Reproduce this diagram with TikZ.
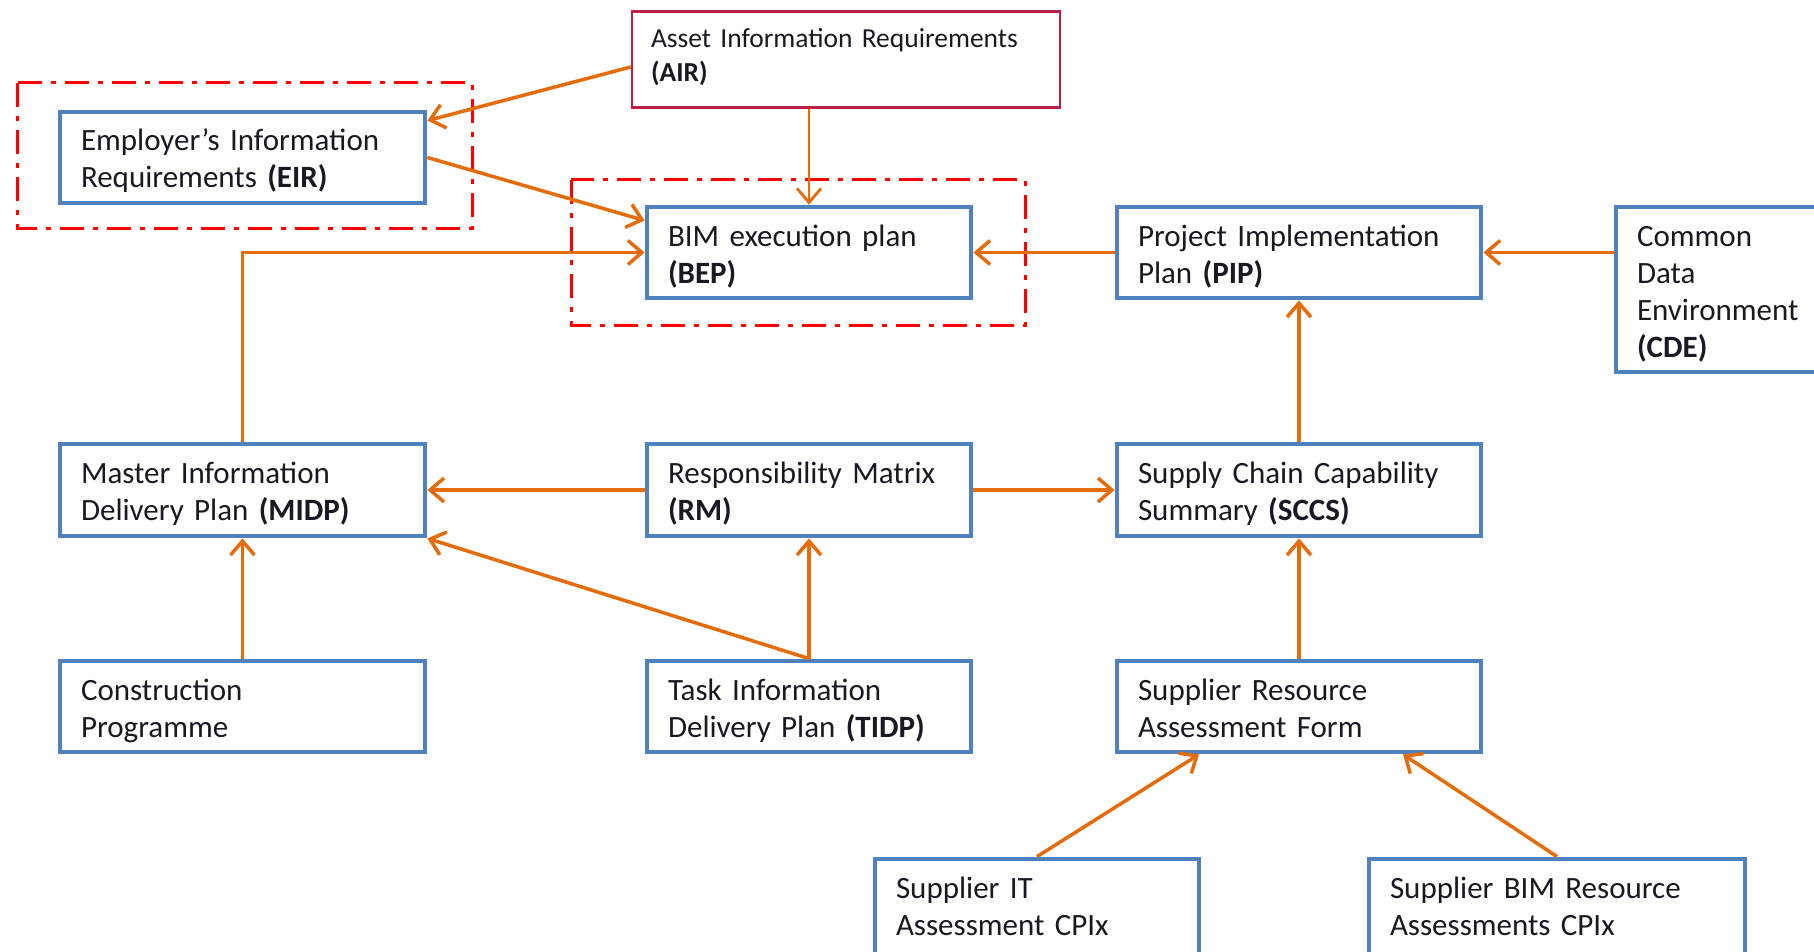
\documentclass[tikz,border=0pt]{standalone}
\usepackage{fontspec}
\setmainfont{Carlito}
\usetikzlibrary{arrows.meta}
\definecolor{boxblue}{RGB}{79,129,189}
\definecolor{arrorange}{RGB}{228,108,10}
\definecolor{airred}{RGB}{190,30,70}
\definecolor{grpred}{RGB}{255,0,0}
\definecolor{txt}{RGB}{25,25,35}
\tikzset{
  bx/.style={draw=boxblue, line width=4.8pt, fill=white, inner xsep=21pt, inner ysep=0pt,
    align=left, text height=39pt, text=txt, font=\fontsize{31}{37}\selectfont},
  airbx/.style={draw=airred, line width=2.5pt, fill=white, inner xsep=19pt, inner ysep=0pt,
    align=left, text height=36pt, text=txt, font=\fontsize{27.5}{34}\selectfont},
  conn/.style={draw=arrorange, line width=3.5pt, -{Straight Barb[length=14pt,width=24pt,line width=3.5pt]}},
  thinconn/.style={draw=arrorange, line width=2.8pt, -{Straight Barb[length=14pt,width=24pt,line width=2.8pt]}},
  grp/.style={draw=grpred, line width=3pt, dash pattern=on 24pt off 9pt on 5pt off 9pt}
}
\begin{document}
\begin{tikzpicture}[x=1pt,y=-1pt]
\useasboundingbox (0,0) rectangle (1814,952);
\fill[white] (0,0) rectangle (1814,952);
% group frames
\draw[grp] (17,83) rectangle (472,228);
\draw[grp] (571,180) rectangle (1025,325);
% boxes
\node[airbx, text width=390pt, text depth=60pt] (AIR) at (846,59.5) {Asset Information Requirements\\\textbf{(AIR)}};
\node[bx, text width=323pt, text depth=52pt] (EIR) at (242.5,157.5) {Employer’s Information\\Requirements \textbf{(EIR)}};
\node[bx, text width=282pt, text depth=52pt] (BEP) at (809,252.5) {BIM execution plan\\\textbf{(BEP)}};
\node[bx, text width=322pt, text depth=52pt] (PIP) at (1299,252.5) {Project Implementation\\Plan \textbf{(PIP)}};
\node[bx, text width=200pt, text depth=126pt] (CDE) at (1737,289.5) {Common\\Data\\Environment\\\textbf{(CDE)}};
\node[bx, text width=323pt, text depth=53pt] (MIDP) at (242.5,490) {Master Information\\Delivery Plan \textbf{(MIDP)}};
\node[bx, text width=282pt, text depth=53pt] (RM) at (809,490) {Responsibility Matrix\\\textbf{(RM)}};
\node[bx, text width=322pt, text depth=53pt] (SCCS) at (1299,490) {Supply Chain Capability\\Summary \textbf{(SCCS)}};
\node[bx, text width=323pt, text depth=52pt] (CP) at (242.5,706.5) {Construction\\Programme};
\node[bx, text width=282pt, text depth=52pt] (TIDP) at (809,706.5) {Task Information\\Delivery Plan \textbf{(TIDP)}};
\node[bx, text width=322pt, text depth=52pt] (SRAF) at (1299,706.5) {Supplier Resource\\Assessment Form};
\node[bx, text width=282pt, text depth=67pt] (SIT) at (1037,912) {Supplier IT\\Assessment CPIx};
\node[bx, text width=334pt, text depth=67pt] (SBIM) at (1557,912) {Supplier BIM Resource\\Assessments CPIx};
% connectors
\draw[conn] ([yshift=-7.5pt]AIR.west) -- ([yshift=-11pt]EIR.north east);
\draw[conn] (EIR.east) -- ([yshift=32pt]BEP.west);
\draw[thinconn] (AIR.south -| BEP.north) -- (BEP.north);
\draw[conn] (MIDP.north) |- (BEP.west);
\draw[conn] (PIP.west) -- (BEP.east);
\draw[conn] (CDE.west |- PIP.east) -- (PIP.east);
\draw[conn] (SCCS.north) -- (PIP.south);
\draw[conn] (RM.west) -- (MIDP.east);
\draw[conn] (RM.east) -- (SCCS.west);
\draw[conn] (CP.north) -- (MIDP.south);
\draw[conn] (TIDP.north) -- (RM.south);
\draw[conn] (TIDP.north) -- (MIDP.south east);
\draw[conn] (SRAF.north) -- (SCCS.south);
\draw[conn] (SIT.north) -- ([xshift=-100pt]SRAF.south);
\draw[conn] (SBIM.north) -- ([xshift=104pt]SRAF.south);
\end{tikzpicture}
\end{document}
